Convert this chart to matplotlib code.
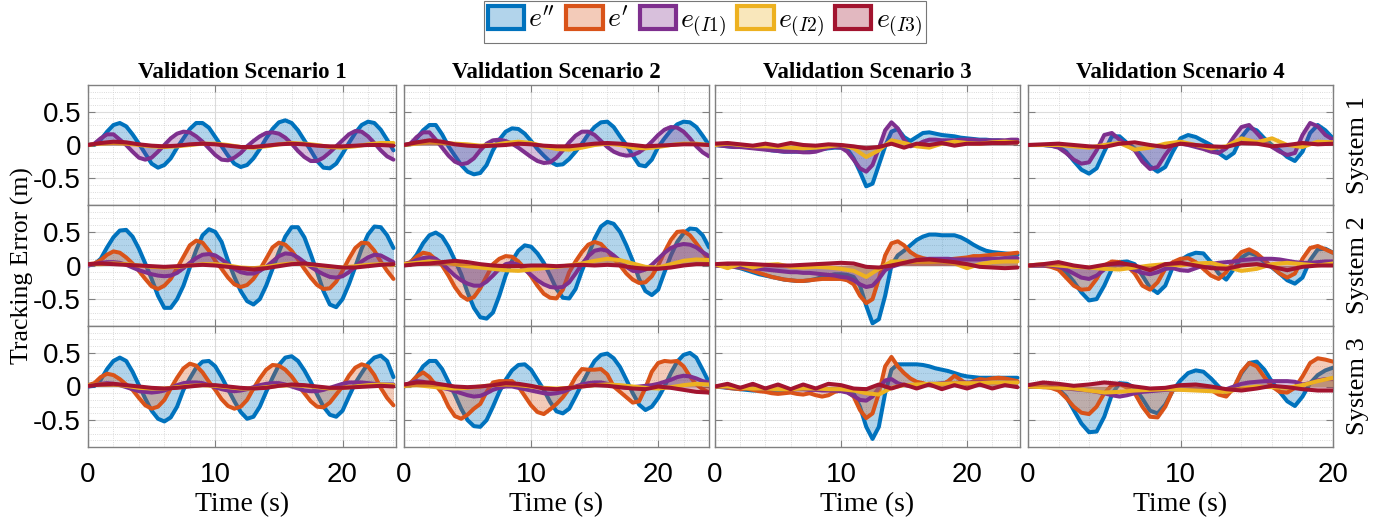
import numpy as np
import matplotlib.pyplot as plt
from matplotlib.patches import Patch
from matplotlib.colors import to_rgba
from matplotlib.ticker import MultipleLocator

plt.rcParams['mathtext.fontset'] = 'cm'

# sample times (s): fine grid for large errors, coarse grid for the small ones
t_fine = np.arange(0, 24.01, 0.5)
t_coarse = np.arange(0, 24.01, 1.0)
t4_fine = np.arange(0, 20.01, 0.5)
t4_coarse = np.arange(0, 20.01, 1.0)

scenario_titles = ['Validation Scenario 1', 'Validation Scenario 2',
                   'Validation Scenario 3', 'Validation Scenario 4']
system_labels = ['System 1', 'System 2', 'System 3']
series_labels = [r"$e''$", r"$e'$", r"$e_{(I1)}$", r"$e_{(I2)}$", r"$e_{(I3)}$"]
colors = ['#0072BD', '#D95319', '#7E2F8E', '#EDB120', '#A2142F']

# ---------------- System 1 ----------------
sc1_sys1_edd = [0.0, 0.0, 0.08, 0.2, 0.3, 0.33, 0.28, 0.16, 0.02, -0.13,
                -0.28, -0.34, -0.3, -0.2, -0.04, 0.1, 0.24, 0.33, 0.33, 0.26,
                0.12, -0.02, -0.16, -0.28, -0.33, -0.3, -0.2, -0.06, 0.1, 0.24,
                0.34, 0.37, 0.33, 0.22, 0.07, -0.08, -0.24, -0.34, -0.35, -0.28,
                -0.13, 0.03, 0.18, 0.3, 0.35, 0.33, 0.23, 0.08, -0.08]
sc1_sys1_ed = None
sc1_sys1_ei1 = [0.0, 0.02, 0.1, 0.16, 0.16, 0.08, 0.0, -0.1, -0.19, -0.22,
                -0.19, -0.1, 0.0, 0.1, 0.17, 0.2, 0.19, 0.13, 0.05, -0.05,
                -0.15, -0.22, -0.23, -0.19, -0.12, -0.02, 0.06, 0.13, 0.18, 0.19,
                0.17, 0.11, 0.02, -0.09, -0.18, -0.24, -0.24, -0.19, -0.11, -0.02,
                0.07, 0.16, 0.21, 0.2, 0.13, 0.03, -0.08, -0.17, -0.22]
sc1_sys1_ei2 = [0.0, 0.02, 0.03, 0.02, 0.0, -0.02, -0.03, -0.02, 0.0, 0.02,
                0.02, 0.0, -0.03, -0.04, -0.02, 0.01, 0.03, 0.02, 0.0, -0.03,
                -0.04, -0.02, 0.01, 0.03, 0.03]
sc1_sys1_ei3 = [0.0, 0.03, 0.05, 0.04, 0.01, -0.01, -0.02, -0.01, 0.01, 0.02,
                0.01, -0.01, -0.03, -0.03, -0.01, 0.01, 0.02, 0.01, -0.01, -0.02,
                -0.02, -0.01, 0.0, 0.0, -0.01]

sc2_sys1_edd = [0.0, 0.01, 0.1, 0.22, 0.3, 0.3, 0.16, -0.02, -0.16, -0.3,
                -0.4, -0.44, -0.42, -0.3, -0.08, 0.08, 0.2, 0.25, 0.24, 0.17,
                0.06, -0.06, -0.16, -0.25, -0.3, -0.29, -0.21, -0.1, 0.02, 0.16,
                0.27, 0.34, 0.35, 0.27, 0.13, 0.0, -0.16, -0.3, -0.32, -0.22,
                -0.03, 0.1, 0.22, 0.31, 0.35, 0.34, 0.27, 0.14, 0.0]
sc2_sys1_ed = None
sc2_sys1_ei1 = [0.0, 0.02, 0.12, 0.19, 0.19, 0.08, -0.04, -0.16, -0.25, -0.29,
                -0.27, -0.2, -0.08, 0.02, 0.07, 0.08, 0.06, 0.02, -0.04, -0.11,
                -0.18, -0.24, -0.27, -0.26, -0.19, -0.08, 0.04, 0.14, 0.2, 0.2,
                0.15, 0.06, -0.03, -0.1, -0.14, -0.16, -0.15, -0.11, -0.04, 0.05,
                0.15, 0.23, 0.27, 0.26, 0.2, 0.1, -0.02, -0.11, -0.17]
sc2_sys1_ei2 = [0.0, 0.02, 0.04, 0.03, 0.02, 0.01, -0.01, 0.0, 0.03, 0.05,
                0.03, -0.02, -0.06, -0.07, -0.04, 0.0, 0.02, 0.0, -0.04, -0.05,
                -0.03, 0.0, 0.02, 0.02, 0.0]
sc2_sys1_ei3 = [0.0, 0.04, 0.07, 0.05, 0.01, -0.01, -0.02, -0.01, 0.0, 0.02,
                0.01, -0.01, -0.02, -0.02, 0.0, 0.02, 0.03, 0.02, 0.0, -0.02,
                -0.01, 0.0, 0.01, 0.01, 0.0]

sc3_sys1_edd = [0.0, -0.01, -0.02, -0.03, -0.03, -0.03, -0.04, -0.05, -0.06, -0.08,
                -0.09, -0.1, -0.1, -0.1, -0.1, -0.09, -0.08, -0.06, -0.05, -0.04,
                -0.04, -0.06, -0.2, -0.4, -0.62, -0.58, -0.3, -0.02, 0.2, 0.24,
                0.12, 0.06, 0.12, 0.18, 0.19, 0.17, 0.15, 0.14, 0.13, 0.11,
                0.1, 0.09, 0.08, 0.08, 0.07, 0.07, 0.06, 0.05, 0.05]
sc3_sys1_ed = None
sc3_sys1_ei1 = [0.0, -0.01, -0.02, -0.03, -0.03, -0.04, -0.05, -0.06, -0.07, -0.08,
                -0.09, -0.1, -0.1, -0.1, -0.11, -0.11, -0.1, -0.07, -0.04, -0.03,
                -0.04, -0.1, -0.22, -0.35, -0.4, -0.3, -0.05, 0.22, 0.34, 0.25,
                0.08, -0.02, 0.0, 0.05, 0.08, 0.08, 0.07, 0.07, 0.07, 0.08,
                0.08, 0.08, 0.07, 0.07, 0.07, 0.07, 0.07, 0.08, 0.08]
sc3_sys1_ei2 = [0.0, 0.02, 0.0, -0.02, -0.02, -0.03, -0.04, -0.05, -0.04, -0.02,
                0.0, -0.05, -0.18, -0.08, 0.07, 0.03, -0.02, -0.04, 0.02, 0.05,
                0.03, 0.02, 0.04, 0.05, 0.04]
sc3_sys1_ei3 = [0.02, 0.03, 0.01, -0.01, 0.02, -0.01, 0.03, 0.0, -0.01, 0.01,
                0.0, -0.02, -0.05, -0.03, 0.02, -0.04, 0.02, 0.0, 0.03, -0.01,
                0.02, 0.02, 0.03, 0.03, 0.04]

sc4_sys1_edd = [0.0, 0.0, 0.0, -0.01, -0.03, -0.1, -0.24, -0.37, -0.43, -0.35,
                -0.1, 0.13, 0.13, 0.03, -0.05, -0.18, -0.32, -0.4, -0.33, -0.1,
                0.1, 0.15, 0.12, 0.06, 0.0, -0.12, -0.2, -0.12, 0.12, 0.26,
                0.22, 0.1, 0.0, -0.08, -0.18, -0.24, -0.1, 0.18, 0.3, 0.22,
                0.1]
sc4_sys1_ed = None
sc4_sys1_ei1 = [0.0, 0.0, 0.0, -0.01, -0.04, -0.12, -0.22, -0.28, -0.26, -0.08,
                0.15, 0.18, 0.08, 0.0, -0.08, -0.25, -0.36, -0.33, -0.15, 0.0,
                0.02, 0.0, -0.03, -0.06, -0.1, -0.12, -0.05, 0.12, 0.27, 0.3,
                0.18, 0.05, -0.03, -0.1, -0.15, -0.12, 0.15, 0.33, 0.28, 0.15,
                0.08]
sc4_sys1_ei2 = [0.0, 0.0, 0.0, -0.02, -0.04, 0.0, 0.03, -0.07, -0.04, 0.02,
                0.05, 0.0, -0.05, -0.02, 0.1, 0.04, 0.1, 0.0, -0.03, 0.05,
                0.04]
sc4_sys1_ei3 = [0.0, 0.01, 0.02, 0.0, -0.02, -0.03, 0.02, 0.04, 0.0, -0.03,
                0.02, 0.0, -0.02, -0.03, 0.03, 0.02, -0.02, 0.0, 0.03, 0.01,
                0.02]

# ---------------- System 2 ----------------
sc1_sys2_edd = [0.0, 0.02, 0.1, 0.27, 0.42, 0.52, 0.53, 0.43, 0.25, 0.03,
                -0.2, -0.45, -0.63, -0.63, -0.5, -0.3, -0.03, 0.23, 0.45, 0.54,
                0.5, 0.35, 0.07, -0.17, -0.38, -0.53, -0.58, -0.5, -0.3, -0.05,
                0.2, 0.43, 0.57, 0.57, 0.42, 0.17, -0.1, -0.38, -0.58, -0.62,
                -0.5, -0.28, -0.02, 0.25, 0.46, 0.58, 0.57, 0.45, 0.26]
sc1_sys2_ed = [0.02, 0.03, 0.08, 0.16, 0.21, 0.19, 0.12, 0.03, -0.08, -0.2,
               -0.31, -0.35, -0.3, -0.2, -0.04, 0.13, 0.3, 0.37, 0.34, 0.22,
               0.07, -0.05, -0.18, -0.28, -0.32, -0.29, -0.2, -0.06, 0.1, 0.27,
               0.34, 0.31, 0.22, 0.09, -0.05, -0.18, -0.29, -0.35, -0.34, -0.24,
               -0.08, 0.1, 0.26, 0.34, 0.33, 0.22, 0.06, -0.08, -0.2]
sc1_sys2_ei1 = [0.0, 0.02, 0.04, 0.05, 0.05, 0.04, 0.01, -0.03, -0.07, -0.1,
                -0.13, -0.15, -0.16, -0.15, -0.11, -0.04, 0.04, 0.11, 0.16, 0.17,
                0.15, 0.09, 0.02, -0.05, -0.1, -0.12, -0.12, -0.08, -0.02, 0.06,
                0.14, 0.18, 0.17, 0.12, 0.05, -0.02, -0.08, -0.13, -0.17, -0.18,
                -0.16, -0.1, -0.02, 0.06, 0.12, 0.16, 0.15, 0.1, 0.05]
sc1_sys2_ei2 = [0.02, 0.02, 0.03, 0.02, 0.0, -0.02, -0.03, -0.02, 0.0, 0.02,
                0.02, 0.0, -0.03, -0.04, -0.02, 0.01, 0.03, 0.02, 0.0, -0.02,
                -0.03, -0.01, 0.01, 0.02, 0.01]
sc1_sys2_ei3 = [0.02, 0.03, 0.02, 0.01, 0.0, -0.01, -0.02, -0.01, 0.0, 0.01,
                0.0, -0.02, -0.04, -0.06, -0.04, -0.01, 0.02, 0.03, 0.01, -0.01,
                -0.03, -0.03, -0.01, 0.01, 0.02]

sc2_sys2_edd = [0.0, 0.04, 0.16, 0.33, 0.45, 0.49, 0.43, 0.28, 0.08, -0.13,
                -0.4, -0.63, -0.77, -0.79, -0.7, -0.45, -0.15, 0.07, 0.22, 0.3,
                0.28, 0.18, 0.04, -0.15, -0.35, -0.48, -0.49, -0.35, -0.08, 0.15,
                0.4, 0.58, 0.65, 0.62, 0.5, 0.3, 0.07, -0.2, -0.38, -0.44,
                -0.36, -0.1, 0.15, 0.35, 0.48, 0.55, 0.54, 0.45, 0.27]
sc2_sys2_ed = [0.02, 0.05, 0.13, 0.19, 0.17, 0.09, 0.0, -0.15, -0.32, -0.45,
               -0.51, -0.47, -0.34, -0.16, 0.02, 0.1, 0.14, 0.13, 0.06, -0.04,
               -0.16, -0.3, -0.42, -0.48, -0.49, -0.36, -0.1, 0.06, 0.2, 0.31,
               0.35, 0.32, 0.22, 0.1, 0.0, -0.12, -0.21, -0.26, -0.25, -0.16,
               0.0, 0.2, 0.38, 0.5, 0.51, 0.45, 0.33, 0.2, 0.08]
sc2_sys2_ei1 = [0.02, 0.04, 0.08, 0.11, 0.12, 0.1, 0.03, -0.06, -0.15, -0.22,
                -0.27, -0.3, -0.3, -0.24, -0.15, -0.05, 0.02, 0.04, 0.01, -0.06,
                -0.14, -0.22, -0.28, -0.32, -0.33, -0.32, -0.25, -0.12, 0.02, 0.14,
                0.22, 0.24, 0.22, 0.15, 0.07, -0.02, -0.08, -0.09, -0.06, 0.01,
                0.1, 0.19, 0.26, 0.3, 0.32, 0.31, 0.27, 0.2, 0.14]
sc2_sys2_ei2 = [0.02, 0.04, 0.06, 0.05, 0.02, -0.01, -0.03, -0.05, -0.07, -0.08,
                -0.06, -0.04, -0.02, 0.0, 0.03, 0.07, 0.1, 0.08, 0.03, -0.02,
                -0.03, 0.02, 0.07, 0.09, 0.08]
sc2_sys2_ei3 = [0.0, 0.02, 0.03, 0.05, 0.07, 0.05, 0.02, 0.0, -0.01, -0.01,
                0.0, 0.0, -0.01, 0.0, 0.01, 0.0, 0.01, 0.0, -0.03, -0.05,
                -0.05, -0.03, 0.0, 0.02, 0.02]

sc3_sys2_edd = [0.0, 0.0, -0.01, -0.02, -0.04, -0.07, -0.1, -0.13, -0.15, -0.17,
                -0.19, -0.21, -0.22, -0.23, -0.23, -0.22, -0.2, -0.17, -0.15, -0.13,
                -0.13, -0.14, -0.17, -0.3, -0.6, -0.86, -0.8, -0.45, 0.0, 0.15,
                0.22, 0.3, 0.38, 0.43, 0.46, 0.46, 0.45, 0.45, 0.45, 0.42,
                0.37, 0.31, 0.26, 0.22, 0.2, 0.19, 0.18, 0.17, 0.16]
sc3_sys2_ed = [0.0, 0.0, -0.01, -0.02, -0.03, -0.05, -0.08, -0.11, -0.14, -0.17,
               -0.19, -0.21, -0.22, -0.23, -0.23, -0.22, -0.21, -0.2, -0.2, -0.2,
               -0.2, -0.22, -0.28, -0.45, -0.56, -0.5, -0.2, 0.15, 0.33, 0.36,
               0.3, 0.2, 0.14, 0.11, 0.09, 0.08, 0.08, 0.09, 0.1, 0.11,
               0.12, 0.14, 0.14, 0.15, 0.16, 0.17, 0.17, 0.18, 0.19]
sc3_sys2_ei1 = [0.0, 0.0, -0.01, -0.02, -0.02, -0.03, -0.04, -0.05, -0.06, -0.07,
                -0.08, -0.09, -0.1, -0.1, -0.11, -0.11, -0.12, -0.13, -0.14, -0.15,
                -0.17, -0.18, -0.22, -0.28, -0.32, -0.3, -0.2, -0.07, -0.02, 0.01,
                0.04, 0.06, 0.08, 0.09, 0.1, 0.1, 0.1, 0.1, 0.09, 0.09,
                0.09, 0.09, 0.09, 0.1, 0.1, 0.1, 0.11, 0.11, 0.11]
sc3_sys2_ei2 = [0.02, -0.04, 0.02, -0.03, 0.01, 0.02, -0.02, -0.03, -0.02, -0.03,
                -0.05, -0.08, -0.17, -0.05, 0.06, 0.06, 0.05, 0.05, 0.06, 0.03,
                -0.04, 0.02, 0.05, 0.06, 0.06]
sc3_sys2_ei3 = [0.02, 0.03, 0.03, 0.02, 0.01, 0.0, 0.0, 0.01, 0.02, 0.03,
                0.04, 0.03, -0.02, -0.03, 0.0, 0.04, 0.08, 0.09, 0.07, 0.05,
                0.02, -0.02, -0.03, -0.04, -0.03]

sc4_sys2_edd = [0.0, 0.0, 0.0, -0.01, -0.03, -0.1, -0.24, -0.4, -0.52, -0.5,
                -0.3, -0.05, 0.05, 0.06, 0.02, -0.15, -0.33, -0.41, -0.3, -0.02,
                0.08, 0.15, 0.19, 0.18, 0.05, -0.12, -0.21, -0.05, 0.12, 0.19,
                0.15, 0.05, -0.03, -0.12, -0.22, -0.27, -0.18, 0.08, 0.24, 0.25,
                0.19]
sc4_sys2_ed = [0.0, 0.0, 0.0, -0.02, -0.06, -0.18, -0.3, -0.36, -0.35, -0.2,
               0.0, 0.06, 0.05, 0.0, -0.12, -0.3, -0.36, -0.25, -0.05, 0.05,
               0.1, 0.11, 0.05, -0.05, -0.15, -0.2, -0.1, 0.08, 0.2, 0.24,
               0.18, 0.08, -0.02, -0.12, -0.18, -0.12, 0.1, 0.26, 0.29, 0.24,
               0.19]
sc4_sys2_ei1 = [0.0, 0.0, 0.0, 0.0, -0.02, -0.06, -0.12, -0.18, -0.2, -0.15,
                -0.06, 0.0, 0.0, -0.03, -0.07, -0.11, -0.13, -0.1, -0.05, -0.04,
                -0.07, -0.08, -0.04, 0.0, 0.02, 0.04, 0.05, 0.06, 0.08, 0.09,
                0.1, 0.1, 0.1, 0.09, 0.07, 0.05, 0.04, 0.04, 0.05, 0.06,
                0.06]
sc4_sys2_ei2 = [0.0, 0.02, 0.0, -0.02, -0.03, -0.05, -0.06, -0.03, 0.0, 0.02,
                0.0, 0.03, 0.04, -0.02, -0.08, -0.05, 0.02, 0.04, 0.02, 0.0,
                0.03]
sc4_sys2_ei3 = [0.0, 0.02, 0.05, 0.0, -0.03, 0.01, 0.04, 0.0, -0.07, 0.02,
                0.04, 0.0, -0.04, -0.05, 0.0, 0.02, -0.02, -0.07, -0.02, 0.0,
                0.0]

# ---------------- System 3 ----------------
sc1_sys3_edd = [0.0, 0.01, 0.1, 0.26, 0.38, 0.43, 0.38, 0.22, 0.02, -0.18,
                -0.36, -0.48, -0.52, -0.46, -0.3, -0.05, 0.12, 0.28, 0.37, 0.38,
                0.3, 0.14, -0.04, -0.22, -0.38, -0.48, -0.45, -0.3, -0.08, 0.13,
                0.32, 0.43, 0.45, 0.38, 0.24, 0.07, -0.12, -0.3, -0.42, -0.45,
                -0.36, -0.15, 0.05, 0.2, 0.34, 0.43, 0.46, 0.38, 0.14]
sc1_sys3_ed = [0.02, 0.05, 0.14, 0.19, 0.17, 0.11, 0.03, -0.05, -0.17, -0.28,
               -0.33, -0.3, -0.2, -0.03, 0.13, 0.27, 0.34, 0.31, 0.21, 0.07,
               -0.05, -0.19, -0.29, -0.33, -0.3, -0.2, -0.03, 0.12, 0.25, 0.32,
               0.31, 0.25, 0.15, 0.02, -0.1, -0.22, -0.3, -0.31, -0.24, -0.12,
               0.0, 0.16, 0.28, 0.33, 0.3, 0.17, -0.02, -0.17, -0.28]
sc1_sys3_ei1 = [0.0, 0.02, 0.04, 0.05, 0.04, 0.02, -0.01, -0.04, -0.07, -0.08,
                -0.09, -0.08, -0.06, -0.02, 0.02, 0.05, 0.06, 0.06, 0.05, 0.02,
                -0.01, -0.04, -0.06, -0.07, -0.06, -0.04, -0.01, 0.02, 0.04, 0.05,
                0.05, 0.03, 0.0, -0.03, -0.06, -0.07, -0.07, -0.05, -0.02, 0.01,
                0.04, 0.06, 0.06, 0.06, 0.05, 0.04, 0.03, 0.03, 0.03]
sc1_sys3_ei2 = [0.02, 0.03, 0.03, 0.01, -0.02, -0.03, -0.03, -0.01, 0.01, 0.02,
                0.01, -0.01, -0.03, -0.03, -0.01, 0.01, 0.02, 0.01, -0.01, -0.03,
                -0.02, 0.0, 0.02, 0.03, 0.02]
sc1_sys3_ei3 = [0.01, 0.03, 0.04, 0.02, 0.0, -0.02, -0.03, -0.02, 0.0, 0.02,
                0.02, 0.0, -0.02, -0.03, -0.02, 0.01, 0.03, 0.02, 0.0, -0.02,
                -0.02, -0.01, 0.0, 0.01, 0.0]

sc2_sys3_edd = [0.0, 0.04, 0.15, 0.3, 0.38, 0.38, 0.26, 0.07, -0.12, -0.33,
                -0.5, -0.59, -0.6, -0.5, -0.3, -0.08, 0.1, 0.24, 0.32, 0.33,
                0.25, 0.1, -0.05, -0.23, -0.37, -0.4, -0.33, -0.15, 0.04, 0.22,
                0.38, 0.47, 0.49, 0.42, 0.29, 0.1, -0.1, -0.27, -0.35, -0.3,
                -0.17, 0.0, 0.2, 0.37, 0.47, 0.5, 0.43, 0.25, 0.06]
sc2_sys3_ed = [0.0, 0.05, 0.15, 0.21, 0.14, 0.02, -0.1, -0.3, -0.44, -0.48,
               -0.42, -0.33, -0.26, -0.08, 0.06, 0.08, 0.08, 0.08, 0.0, -0.14,
               -0.28, -0.38, -0.41, -0.34, -0.26, -0.16, -0.03, 0.14, 0.26, 0.25,
               0.25, 0.26, 0.18, 0.0, -0.08, -0.16, -0.24, -0.22, -0.02, 0.22,
               0.35, 0.38, 0.37, 0.38, 0.3, 0.15, 0.03, -0.04, -0.09]
sc2_sys3_ei1 = [0.02, 0.05, 0.08, 0.07, 0.04, 0.01, -0.02, -0.04, -0.07, -0.1,
                -0.13, -0.15, -0.14, -0.1, -0.05, -0.02, 0.0, 0.0, -0.02, -0.04,
                -0.06, -0.08, -0.1, -0.11, -0.1, -0.08, -0.04, 0.0, 0.03, 0.05,
                0.06, 0.06, 0.04, 0.01, -0.01, -0.02, -0.01, 0.0, 0.01, 0.02,
                0.04, 0.07, 0.1, 0.14, 0.16, 0.15, 0.12, 0.08, 0.06]
sc2_sys3_ei2 = [0.01, 0.02, 0.0, -0.02, -0.03, -0.02, 0.0, 0.02, 0.03, 0.02,
                0.0, -0.02, -0.03, -0.02, 0.0, 0.02, 0.03, 0.02, 0.0, -0.02,
                -0.03, -0.01, 0.02, 0.04, 0.03]
sc2_sys3_ei3 = [0.03, 0.06, 0.06, 0.03, 0.0, -0.01, 0.0, 0.02, 0.05, 0.04,
                0.01, -0.03, -0.04, -0.02, 0.0, 0.02, 0.01, -0.01, -0.03, -0.04,
                0.0, -0.02, -0.05, -0.08, -0.09]

sc3_sys3_edd = [0.0, -0.01, -0.02, -0.03, -0.04, -0.05, -0.06, -0.06, -0.06, -0.05,
                -0.05, -0.05, -0.04, -0.04, -0.04, -0.04, -0.04, -0.04, -0.04, -0.04,
                -0.05, -0.06, -0.1, -0.3, -0.6, -0.78, -0.6, -0.1, 0.25, 0.33,
                0.33, 0.33, 0.33, 0.32, 0.3, 0.27, 0.25, 0.23, 0.2, 0.17,
                0.15, 0.14, 0.13, 0.13, 0.13, 0.13, 0.13, 0.13, 0.13]
sc3_sys3_ed = [0.0, 0.0, -0.02, -0.03, -0.04, -0.03, -0.05, -0.07, -0.08, -0.1,
               -0.11, -0.1, -0.09, -0.11, -0.12, -0.1, -0.13, -0.15, -0.13, -0.08,
               -0.06, -0.08, -0.15, -0.35, -0.47, -0.4, -0.1, 0.3, 0.44, 0.3,
               0.2, 0.12, 0.07, 0.05, 0.02, 0.01, 0.03, 0.08, 0.16, 0.1,
               0.03, 0.08, 0.11, 0.1, 0.12, 0.13, 0.12, 0.1, 0.08]
sc3_sys3_ei1 = [0.0, 0.0, -0.01, -0.01, -0.02, -0.02, -0.02, -0.03, -0.03, -0.03,
                -0.03, -0.03, -0.04, -0.04, -0.04, -0.05, -0.05, -0.06, -0.06, -0.06,
                -0.07, -0.09, -0.14, -0.2, -0.21, -0.15, -0.02, 0.09, 0.11, 0.05,
                0.02, 0.01, 0.02, 0.03, 0.04, 0.04, 0.05, 0.05, 0.05, 0.06,
                0.06, 0.06, 0.06, 0.06, 0.06, 0.06, 0.06, 0.06, 0.06]
sc3_sys3_ei2 = [0.0, 0.0, -0.02, -0.03, -0.03, -0.04, -0.04, -0.03, -0.03, -0.04,
                -0.04, -0.06, -0.1, -0.12, -0.02, 0.02, 0.03, 0.04, 0.04, 0.05,
                0.05, 0.05, 0.06, 0.06, 0.06]
sc3_sys3_ei3 = [0.0, 0.04, -0.02, 0.04, -0.03, 0.03, -0.04, 0.03, -0.03, 0.04,
                0.02, -0.03, -0.04, 0.03, -0.03, 0.03, -0.03, 0.03, -0.04, 0.02,
                -0.03, 0.03, -0.03, 0.02, -0.01]

sc4_sys3_edd = [0.0, 0.0, 0.0, -0.01, -0.04, -0.15, -0.35, -0.55, -0.68, -0.67,
                -0.45, -0.12, 0.05, 0.04, -0.02, -0.18, -0.36, -0.4, -0.27, -0.06,
                0.09, 0.2, 0.24, 0.22, 0.12, 0.0, -0.1, -0.02, 0.2, 0.35,
                0.37, 0.25, 0.07, -0.08, -0.22, -0.29, -0.15, 0.05, 0.17, 0.24,
                0.28]
sc4_sys3_ed = [0.0, 0.0, 0.0, -0.02, -0.06, -0.17, -0.3, -0.39, -0.41, -0.3,
               -0.1, 0.02, 0.04, -0.02, -0.1, -0.3, -0.45, -0.46, -0.3, -0.05,
               0.0, -0.02, -0.03, -0.03, -0.05, -0.12, -0.15, -0.02, 0.22, 0.35,
               0.3, 0.14, 0.0, -0.08, -0.09, -0.02, 0.15, 0.35, 0.42, 0.4,
               0.37]
sc4_sys3_ei1 = [0.0, 0.0, -0.01, -0.01, -0.02, -0.03, -0.04, -0.05, -0.06, -0.08,
                -0.1, -0.13, -0.15, -0.13, -0.1, -0.08, -0.07, -0.06, -0.05, -0.05,
                -0.04, -0.04, -0.04, -0.04, -0.05, -0.06, -0.04, 0.0, 0.04, 0.06,
                0.07, 0.08, 0.08, 0.08, 0.08, 0.07, 0.03, 0.05, 0.09, 0.11,
                0.11]
sc4_sys3_ei2 = [0.0, -0.01, -0.02, -0.03, -0.06, -0.09, -0.08, -0.06, -0.05, -0.04,
                -0.05, -0.06, -0.07, -0.08, -0.03, 0.0, -0.01, -0.02, 0.02, 0.08,
                0.13]
sc4_sys3_ei3 = [0.02, 0.06, 0.04, 0.01, 0.03, 0.06, 0.04, 0.0, -0.03, -0.02,
                0.02, 0.03, 0.0, -0.04, -0.06, -0.03, 0.01, -0.01, -0.04, -0.06,
                -0.06]

panels = [
    [[sc1_sys1_edd, sc1_sys1_ed, sc1_sys1_ei1, sc1_sys1_ei2, sc1_sys1_ei3],
     [sc2_sys1_edd, sc2_sys1_ed, sc2_sys1_ei1, sc2_sys1_ei2, sc2_sys1_ei3],
     [sc3_sys1_edd, sc3_sys1_ed, sc3_sys1_ei1, sc3_sys1_ei2, sc3_sys1_ei3],
     [sc4_sys1_edd, sc4_sys1_ed, sc4_sys1_ei1, sc4_sys1_ei2, sc4_sys1_ei3]],
    [[sc1_sys2_edd, sc1_sys2_ed, sc1_sys2_ei1, sc1_sys2_ei2, sc1_sys2_ei3],
     [sc2_sys2_edd, sc2_sys2_ed, sc2_sys2_ei1, sc2_sys2_ei2, sc2_sys2_ei3],
     [sc3_sys2_edd, sc3_sys2_ed, sc3_sys2_ei1, sc3_sys2_ei2, sc3_sys2_ei3],
     [sc4_sys2_edd, sc4_sys2_ed, sc4_sys2_ei1, sc4_sys2_ei2, sc4_sys2_ei3]],
    [[sc1_sys3_edd, sc1_sys3_ed, sc1_sys3_ei1, sc1_sys3_ei2, sc1_sys3_ei3],
     [sc2_sys3_edd, sc2_sys3_ed, sc2_sys3_ei1, sc2_sys3_ei2, sc2_sys3_ei3],
     [sc3_sys3_edd, sc3_sys3_ed, sc3_sys3_ei1, sc3_sys3_ei2, sc3_sys3_ei3],
     [sc4_sys3_edd, sc4_sys3_ed, sc4_sys3_ei1, sc4_sys3_ei2, sc4_sys3_ei3]],
]

W, H = 1387, 527
fig = plt.figure(figsize=(W / 100, H / 100), dpi=100)

col_px = [(88, 396), (404, 709), (715, 1020), (1028, 1333)]
row_px = [(85, 205), (205, 326), (326, 447)]
xmax = [24.2, 24.0, 24.2, 20.0]

serif = 'Liberation Serif'
sans = 'Liberation Sans'
spine_col = '#808080'

for r in range(3):
    for c in range(4):
        x0, x1 = col_px[c]
        y0, y1 = row_px[r]
        ax = fig.add_axes([x0 / W, 1 - y1 / H, (x1 - x0) / W, (y1 - y0) / H])
        tf = t4_fine if c == 3 else t_fine
        tc = t4_coarse if c == 3 else t_coarse
        for k, vals in enumerate(panels[r][c]):
            if vals is None:
                continue
            tt = tf if len(vals) == len(tf) else tc
            v = np.array(vals)
            ax.fill_between(tt, 0, v, color=colors[k], alpha=0.3,
                            linewidth=0, zorder=2 + 2 * k)
            ax.plot(tt, v, color=colors[k], lw=2.9, solid_joinstyle='round',
                    solid_capstyle='round', zorder=3 + 2 * k)
        ax.set_xlim(0, xmax[c])
        ax.set_ylim(-0.9, 0.9)
        ax.set_xticks([0, 10, 20])
        ax.set_yticks([-0.5, 0, 0.5])
        ax.xaxis.set_minor_locator(MultipleLocator(2))
        ax.yaxis.set_minor_locator(MultipleLocator(0.1))
        ax.grid(which='major', color='#dcdcdc', lw=0.8, zorder=0)
        ax.grid(which='minor', color='#cfcfcf', lw=0.6, linestyle=':', zorder=0)
        ax.set_axisbelow(True)
        ax.tick_params(which='major', direction='in', length=5, width=0.8,
                       color=spine_col, top=True, right=True,
                       labelsize=20, pad=11)
        ax.tick_params(which='minor', length=0)
        ax.tick_params(axis='y', pad=5)
        for lab in ax.get_xticklabels() + ax.get_yticklabels():
            lab.set_fontfamily(sans)
        for sp in ax.spines.values():
            sp.set_color(spine_col)
            sp.set_linewidth(1.0)
        if c == 0:
            ax.set_yticklabels(['-0.5', '0', '0.5'])
        else:
            ax.set_yticklabels([])
        if r == 2:
            ax.set_xlabel('Time (s)', fontsize=20, family=serif, labelpad=3)
        else:
            ax.set_xticklabels([])
        if r == 0:
            ax.set_title(scenario_titles[c], fontsize=16.5, family=serif,
                         fontweight='bold', pad=5)
        if c == 3:
            fig.text(1358 / W, 1 - (y0 + y1) / 2 / H, system_labels[r],
                     rotation=90, ha='center', va='center', fontsize=19,
                     family=serif)

fig.text(22 / W, 1 - 266 / H, 'Tracking Error (m)', rotation=90,
         ha='center', va='center', fontsize=18.5, family=serif)

handles = [Patch(facecolor=to_rgba(col, 0.3), edgecolor=col, linewidth=3)
           for col in colors]
leg = fig.legend(handles, series_labels, loc='upper center',
                 bbox_to_anchor=(705 / W, 1 - 1 / H), ncol=5, fontsize=20,
                 frameon=True, fancybox=False, edgecolor='#555555',
                 handlelength=1.3, handleheight=0.9, handletextpad=0.15,
                 columnspacing=0.4, borderpad=0.15, borderaxespad=0)
leg.get_frame().set_linewidth(0.8)

fig.savefig('out.png', dpi=100)
